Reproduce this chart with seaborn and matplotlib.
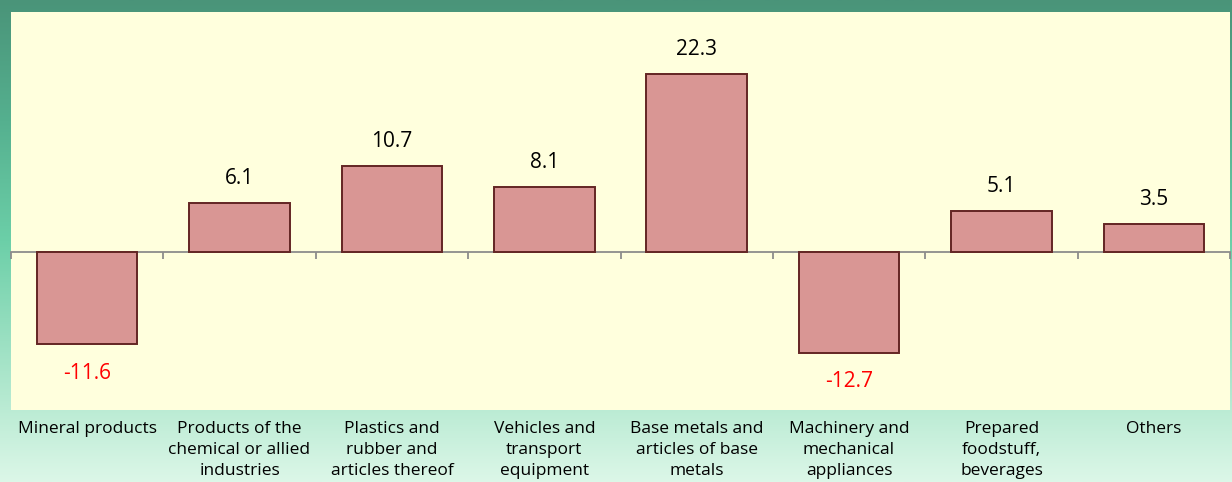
import numpy as np
import pandas as pd
import seaborn as sns
import matplotlib.pyplot as plt
from matplotlib.colors import LinearSegmentedColormap

categories = [
    "Mineral products",
    "Products of the\nchemical or allied\nindustries",
    "Plastics and\nrubber and\narticles thereof",
    "Vehicles and\ntransport\nequipment",
    "Base metals and\narticles of base\nmetals",
    "Machinery and\nmechanical\nappliances",
    "Prepared\nfoodstuff,\nbeverages",
    "Others",
]
values = [-11.6, 6.1, 10.7, 8.1, 22.3, -12.7, 5.1, 3.5]

df = pd.DataFrame({"category": categories, "value": values})

sns.set_theme(style="white")
plt.rcParams["font.family"] = ["Open Sans", "DejaVu Sans"]

fig = plt.figure(figsize=(12.32, 4.82), dpi=100)

# gradient background behind everything
bg = fig.add_axes([0, 0, 1, 1], zorder=0)
cmap = LinearSegmentedColormap.from_list(
    "bg", [(0.0, "#4a9479"), (0.25, "#55b08f"), (0.5, "#6ccfa8"),
           (0.82, "#b4e9d0"), (1.0, "#dcf7e8")])
grad = np.linspace(0, 1, 256).reshape(-1, 1)
bg.imshow(grad, aspect="auto", cmap=cmap, extent=[0, 1, 1, 0])
bg.set_axis_off()

ax = fig.add_axes([11 / 1232, 1 - 410 / 482, 1219 / 1232, 398 / 482], zorder=1)
ax.set_facecolor("#ffffdd")

sns.barplot(data=df, x="category", y="value", ax=ax, width=0.66,
            color="#d99694", edgecolor="#632523", linewidth=1.4,
            saturation=1)

ax.set_ylim(-19.8, 30)
ax.set_xlim(-0.5, len(categories) - 0.5)
ax.set_yticks([])
ax.set_xlabel("")
ax.set_ylabel("")
for s in ["top", "left", "right"]:
    ax.spines[s].set_visible(False)
ax.spines["bottom"].set_position(("data", 0))
ax.spines["bottom"].set_color("#8c8c8c")
ax.spines["bottom"].set_linewidth(1.3)
ax.set_xticks(range(len(categories)))
ax.set_xticklabels([])
ax.tick_params(axis="x", which="major", length=0)
ax.set_xticks(np.arange(-0.5, len(categories), 1.0), minor=True)
ax.tick_params(axis="x", which="minor", bottom=True, length=5, width=1.3,
               color="#8c8c8c", direction="out")
ax.spines["bottom"].set_zorder(0.5)

for i, (cat, v) in enumerate(zip(categories, values)):
    if v >= 0:
        ax.annotate(f"{v:.1f}", (i, v), xytext=(0, 10), textcoords="offset points",
                    ha="center", va="bottom", fontsize=15, color="black")
    else:
        ax.annotate(f"{v:.1f}", (i, v), xytext=(0, -13), textcoords="offset points",
                    ha="center", va="top", fontsize=15, color="#ff0000")
    ax.text(i, -0.028, cat, transform=ax.get_xaxis_transform(), ha="center",
            va="top", fontsize=12.5, color="black", linespacing=1.42,
            clip_on=False)

fig.savefig("out.png", dpi=100)
